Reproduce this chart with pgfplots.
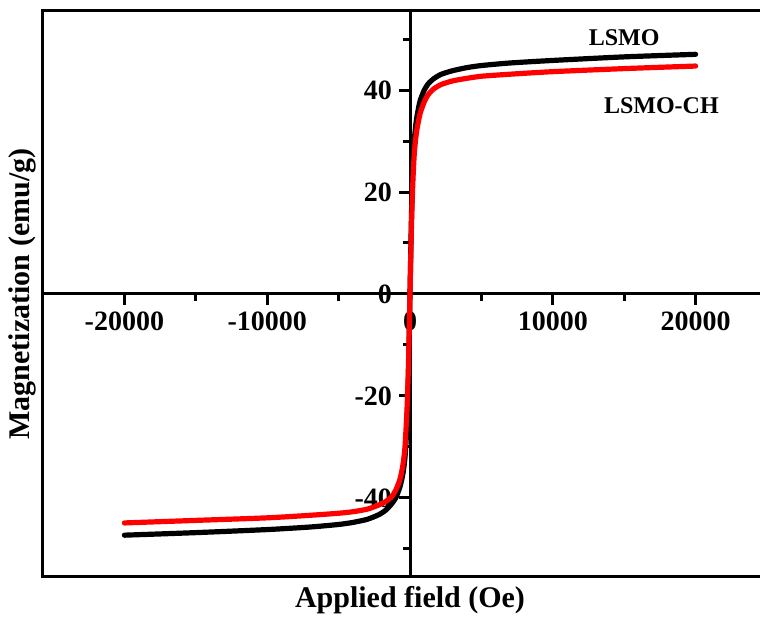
\documentclass[border=0pt]{standalone}
\usepackage{fontspec}
\setmainfont{Liberation Serif}
\usepackage{pgfplots}
\pgfplotsset{compat=1.18}
\begin{document}
\begin{tikzpicture}
\begin{axis}[
  scale only axis, width=367pt, height=283pt,
  xmin=-25700, xmax=25700, ymin=-55.5, ymax=55.5,
  axis lines=middle,
  axis line style={line width=1.5pt, -},
  xtick={-20000,-10000,0,10000,20000},
  minor xtick={-15000,-5000,5000,15000},
  ytick={-40,-20,0,20,40},
  minor ytick={-50,-30,-10,10,30,50},
  tick align=outside,
  major tick length=5.5pt, minor tick length=3.5pt,
  every tick/.style={line width=1.5pt, black},
  hide obscured x ticks=false, hide obscured y ticks=false,
  scaled x ticks=false,
  /pgf/number format/assume math mode=true,
  xticklabel style={/pgf/number format/1000 sep={}, font=\fontsize{14}{16}\selectfont\bfseries},
  yticklabel style={font=\fontsize{14}{16}\selectfont\bfseries},
  clip=false,
  xlabel={Applied field (Oe)}, ylabel={Magnetization (emu/g)},
  every axis x label/.style={at={(rel axis cs:0.5,0)}, anchor=north, font=\fontsize{15}{18}\selectfont\bfseries, yshift=-1pt},
  every axis y label/.style={at={(rel axis cs:0,0.5)}, rotate=90, anchor=south, font=\fontsize{15}{18}\selectfont\bfseries},
]
\draw[line width=1.5pt] (rel axis cs:0,0) rectangle (rel axis cs:1,1);
\addplot[black, line width=2.6pt, smooth, tension=0.4, line join=round, line cap=round] coordinates {
(-20000,-47.3) (-15000,-46.8) (-10000,-46.2) (-7000,-45.7) (-5000,-45.2) (-4000,-44.8) (-3000,-44.2) (-2200,-43.3) (-1700,-42.4) (-1300,-41.2) (-1000,-40.0) (-700,-37.8) (-500,-35.3) (-350,-32.0) (-200,-25) (-100,-15) (0,0)
(100,15) (200,25) (300,30) (400,33) (500,35) (700,37.8) (1000,40) (1300,41.3) (1700,42.3) (2200,43.1) (3000,43.8) (4000,44.4) (5000,44.8) (7000,45.3) (10000,45.8) (15000,46.5) (20000,47.0)
};
\addplot[red, line width=2.6pt, smooth, tension=0.4, line join=round, line cap=round] coordinates {
(-20000,-44.9) (-15000,-44.4) (-10000,-43.9) (-7000,-43.4) (-5000,-43.0) (-4000,-42.7) (-3000,-42.2) (-2200,-41.4) (-1700,-40.7) (-1300,-39.8) (-1000,-38.5) (-700,-36.3) (-500,-33.6) (-350,-30.0) (-200,-22) (-100,-13) (0,0)
(100,13) (200,22) (300,27.5) (400,30.5) (500,32.5) (700,35.3) (1000,37.7) (1300,39.2) (1700,40.3) (2200,41.1) (3000,41.8) (4000,42.3) (5000,42.7) (7000,43.1) (10000,43.6) (15000,44.2) (20000,44.7)
};
\node[font=\fontsize{12}{14}\selectfont\bfseries] at (axis cs:15000,50.2) {LSMO};
\node[font=\fontsize{12}{14}\selectfont\bfseries] at (axis cs:17600,37) {LSMO-CH};
\end{axis}
\pgfresetboundingbox
\useasboundingbox (-21.5pt,-24pt) rectangle (358.5pt,288.5pt);
\end{tikzpicture}
\end{document}
